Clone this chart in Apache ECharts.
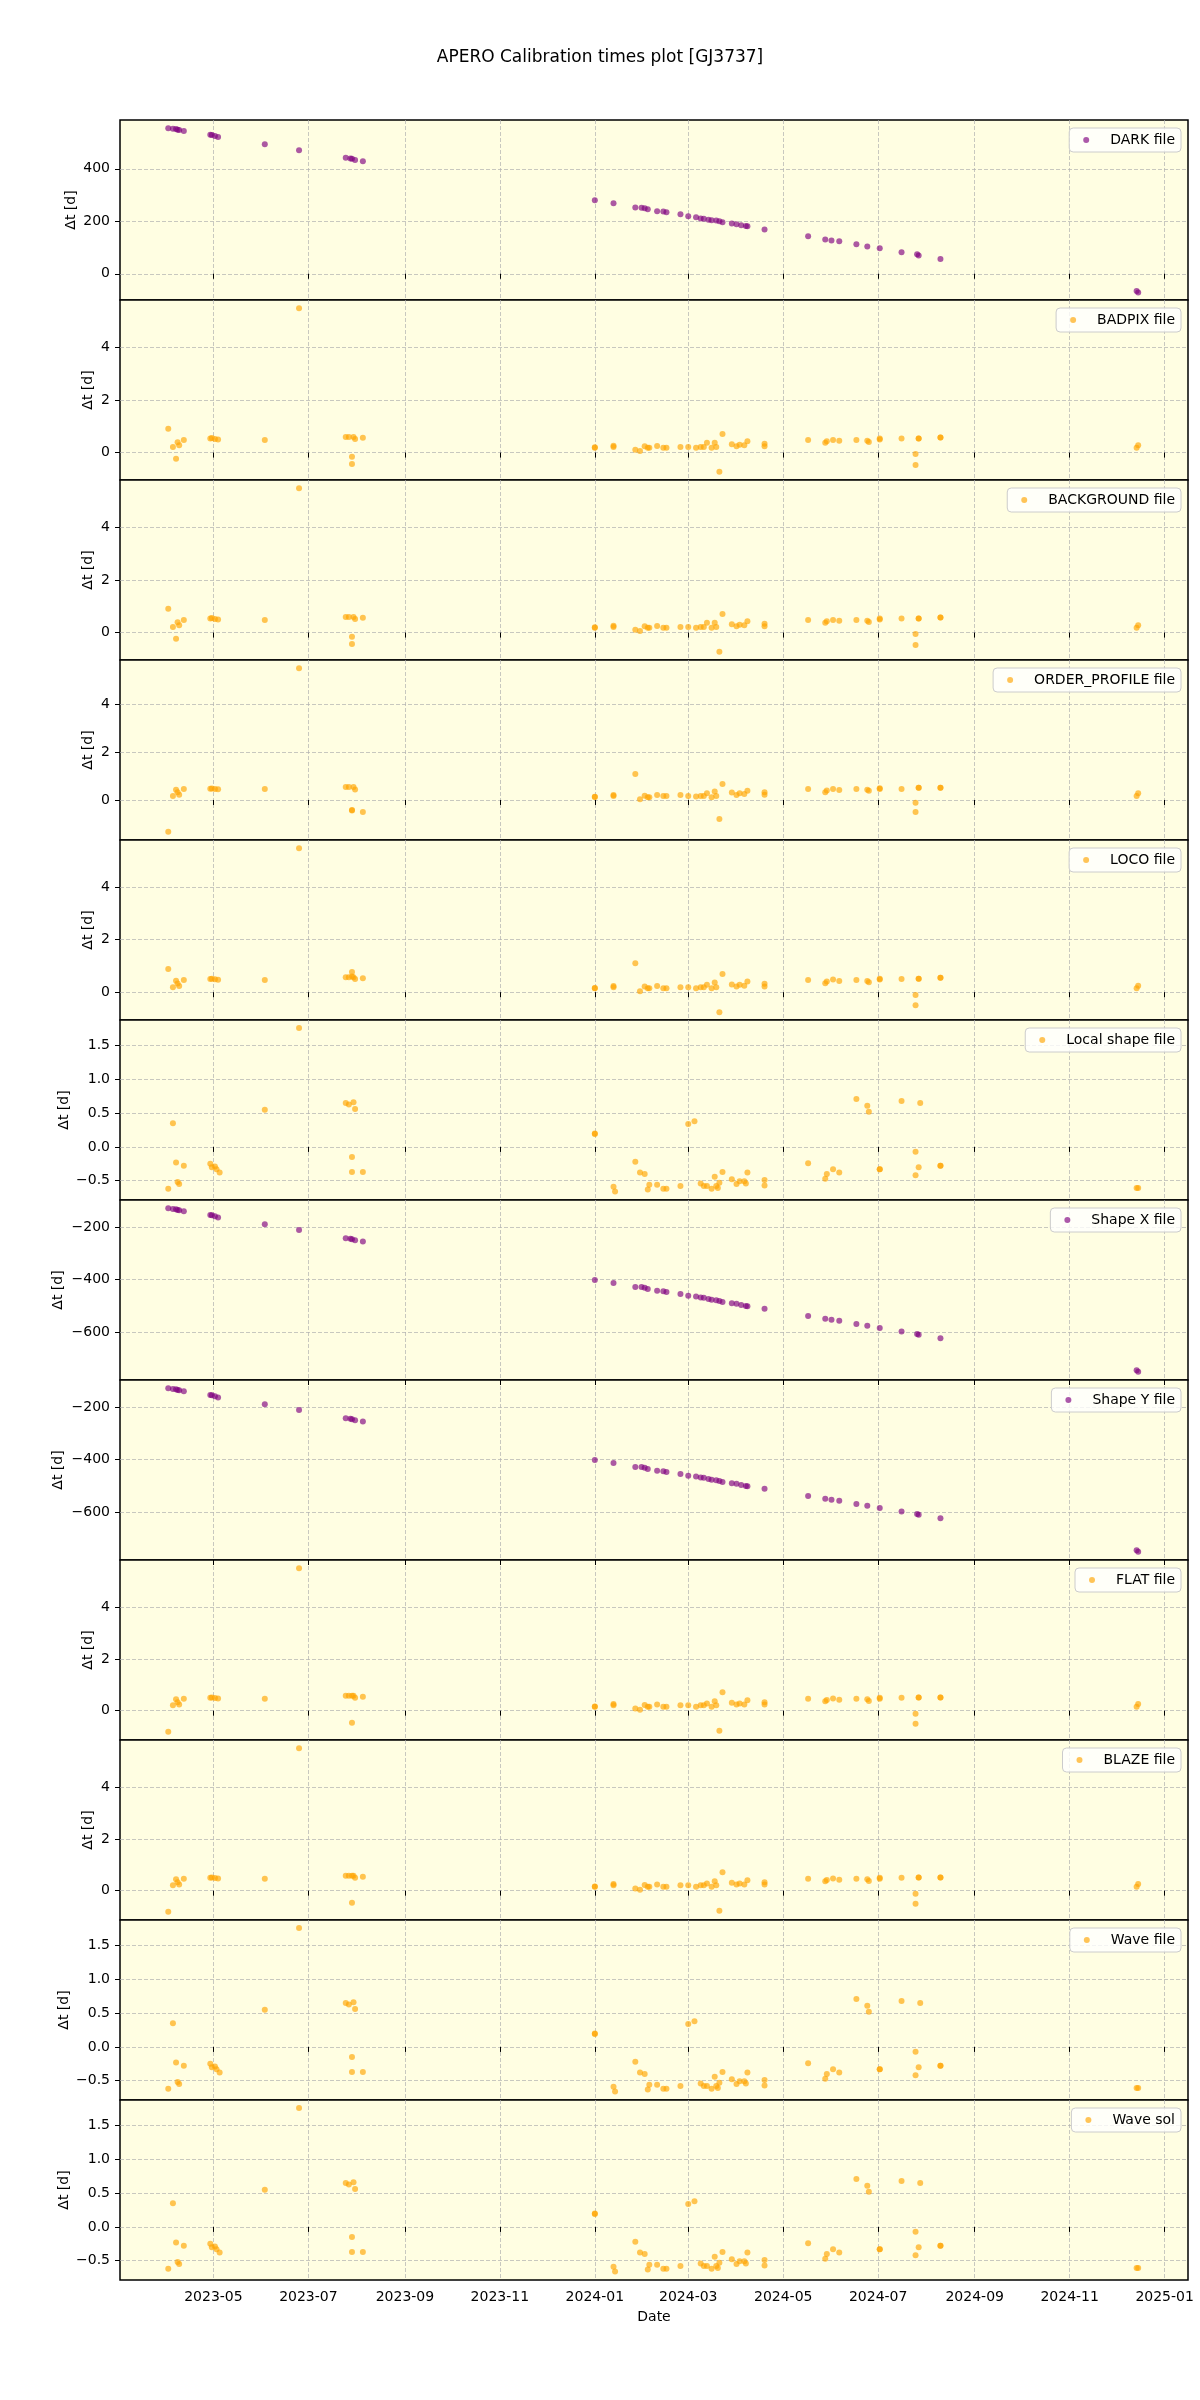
<!DOCTYPE html>
<html>
<head>
<meta charset="utf-8">
<script src="https://cdn.jsdelivr.net/npm/echarts@6/dist/echarts.min.js"></script>
<style>
html,body{margin:0;padding:0;background:#ffffff;}
#chart{width:1200px;height:2400px;}
</style>
</head>
<body>
<div id="chart"></div>
<script>
// ---------------- DATA ----------------
const titleText = 'APERO Calibration times plot [GJ3737]';
const xTickLabels = ['2023-05','2023-07','2023-09','2023-11','2024-01','2024-03','2024-05','2024-07','2024-09','2024-11','2025-01'];

// DARK / Shape X / Shape Y observation dates
const darkDates = ['2023-04-02','2023-04-05','2023-04-07','2023-04-08','2023-04-09','2023-04-12','2023-04-29','2023-04-30','2023-05-02','2023-05-04',
  '2023-06-03','2023-06-25','2023-07-25','2023-07-28','2023-07-29','2023-07-31','2023-08-05',
  '2024-01-01','2024-01-13','2024-01-27','2024-01-31','2024-02-02','2024-02-04','2024-02-10','2024-02-14','2024-02-16','2024-02-25',
  '2024-03-01','2024-03-06','2024-03-09','2024-03-11','2024-03-14','2024-03-16','2024-03-19','2024-03-21','2024-03-23','2024-03-29',
  '2024-04-01','2024-04-04','2024-04-07','2024-04-08','2024-04-19','2024-05-17','2024-05-28','2024-06-01','2024-06-06','2024-06-17',
  '2024-06-24','2024-07-02','2024-07-16','2024-07-26','2024-07-27','2024-08-10','2024-12-14','2024-12-15'];
const darkVals = [555,553,552,549,548,544,530,529,525,521,
  494,471,442,439,438,434,429,
  280,269,253,252,250,246,238,237,234,227,
  219,215,211,210,206,204,203,200,196,192,
  189,185,182,181,169,143,131,127,124,112,
  104,97,82,74,70,56,-66,-71];
const shapeXVals = [-128,-130,-131,-134,-135,-139,-153,-154,-158,-163,
  -189,-211,-242,-244,-246,-250,-255,
  -402,-413,-429,-429,-431,-436,-443,-445,-448,-455,
  -462,-465,-469,-470,-474,-477,-479,-482,-486,-491,
  -493,-497,-501,-502,-512,-539,-550,-554,-558,-570,
  -577,-585,-599,-608,-611,-624,-747,-752];
const shapeYVals = [-128,-130,-131,-134,-135,-139,-153,-154,-158,-163,
  -189,-211,-242,-244,-246,-250,-255,
  -402,-413,-429,-429,-431,-436,-443,-445,-448,-455,
  -462,-465,-469,-470,-474,-477,-479,-482,-486,-491,
  -493,-497,-501,-502,-512,-539,-550,-554,-558,-570,
  -577,-585,-599,-608,-611,-624,-747,-752];

// BADPIX / BACKGROUND / ORDER_PROFILE / LOCO / FLAT / BLAZE dates
const calDates = ['2023-04-02','2023-04-05','2023-04-07','2023-04-08','2023-04-09','2023-04-12','2023-04-29','2023-04-30','2023-05-02','2023-05-04',
  '2023-06-03','2023-06-25','2023-07-25','2023-07-27','2023-07-29','2023-07-29','2023-07-30','2023-07-31','2023-08-05','2024-01-01',
  '2024-01-01','2024-01-13','2024-01-13','2024-01-27','2024-01-30','2024-02-02','2024-02-04','2024-02-05','2024-02-10','2024-02-14',
  '2024-02-16','2024-02-25','2024-03-01','2024-03-06','2024-03-09','2024-03-11','2024-03-13','2024-03-16','2024-03-18','2024-03-19',
  '2024-03-21','2024-03-23','2024-03-29','2024-04-01','2024-04-03','2024-04-06','2024-04-08','2024-04-19','2024-04-19','2024-05-17',
  '2024-05-28','2024-05-29','2024-06-02','2024-06-06','2024-06-17','2024-06-24','2024-06-25','2024-07-02','2024-07-02','2024-07-16',
  '2024-07-25','2024-07-25','2024-07-27','2024-07-27','2024-08-10','2024-08-10','2024-12-14','2024-12-15'];
const badpixVals = [0.90,0.21,-0.23,0.39,0.28,0.48,0.53,0.55,0.52,0.50,
  0.48,5.48,0.59,0.59,-0.43,-0.16,0.59,0.52,0.56,0.18,
  0.20,0.21,0.26,0.11,0.06,0.24,0.18,0.18,0.25,0.18,
  0.18,0.21,0.21,0.18,0.21,0.21,0.37,0.18,0.37,0.21,
  -0.73,0.71,0.32,0.24,0.30,0.28,0.43,0.24,0.34,0.48,
  0.37,0.43,0.48,0.45,0.48,0.45,0.40,0.50,0.53,0.53,
  -0.05,-0.47,0.53,0.53,0.57,0.57,0.18,0.28];
const backgroundVals = [0.90,0.21,-0.23,0.39,0.28,0.48,0.53,0.55,0.52,0.50,
  0.48,5.48,0.59,0.59,-0.43,-0.16,0.59,0.52,0.56,0.18,
  0.20,0.21,0.26,0.11,0.06,0.24,0.18,0.18,0.25,0.18,
  0.18,0.21,0.21,0.18,0.21,0.21,0.37,0.18,0.37,0.21,
  -0.73,0.71,0.32,0.24,0.30,0.28,0.43,0.24,0.34,0.48,
  0.37,0.43,0.48,0.45,0.48,0.45,0.40,0.50,0.53,0.53,
  -0.05,-0.47,0.53,0.53,0.57,0.57,0.18,0.28];
const orderProfileVals = [-1.33,0.17,0.43,0.32,0.22,0.46,0.47,0.48,0.46,0.45,
  0.46,5.50,0.54,0.54,-0.44,-0.42,0.54,0.44,-0.50,0.12,
  0.13,0.17,0.21,1.08,0.03,0.18,0.11,0.11,0.21,0.17,
  0.17,0.21,0.17,0.14,0.17,0.17,0.28,0.11,0.35,0.17,
  -0.79,0.67,0.31,0.21,0.28,0.25,0.38,0.22,0.32,0.46,
  0.32,0.40,0.46,0.42,0.46,0.43,0.38,0.46,0.49,0.46,
  -0.12,-0.50,0.51,0.51,0.51,0.51,0.17,0.28];
const locoVals = [0.88,0.19,0.44,0.33,0.24,0.46,0.50,0.51,0.49,0.47,
  0.46,5.49,0.57,0.57,0.77,0.60,0.57,0.50,0.53,0.15,
  0.16,0.19,0.24,1.10,0.04,0.22,0.15,0.15,0.24,0.15,
  0.15,0.19,0.19,0.15,0.19,0.19,0.28,0.15,0.37,0.19,
  -0.76,0.69,0.29,0.22,0.28,0.25,0.41,0.22,0.32,0.46,
  0.34,0.41,0.48,0.43,0.46,0.43,0.38,0.48,0.51,0.50,
  -0.11,-0.50,0.51,0.51,0.55,0.55,0.15,0.25];
const flatVals = [-0.81,0.21,0.44,0.33,0.24,0.46,0.50,0.51,0.49,0.47,
  0.46,5.50,0.58,0.58,-0.46,0.58,0.58,0.50,0.54,0.15,
  0.16,0.21,0.26,0.09,0.04,0.22,0.15,0.15,0.24,0.15,
  0.15,0.21,0.21,0.15,0.21,0.21,0.28,0.15,0.37,0.21,
  -0.77,0.71,0.31,0.24,0.28,0.24,0.40,0.24,0.33,0.46,
  0.37,0.41,0.47,0.42,0.46,0.44,0.38,0.46,0.50,0.50,
  -0.12,-0.50,0.51,0.51,0.51,0.51,0.15,0.26];
const blazeVals = [-0.81,0.21,0.44,0.33,0.24,0.46,0.50,0.51,0.49,0.47,
  0.46,5.50,0.58,0.58,-0.46,0.58,0.58,0.50,0.54,0.15,
  0.16,0.21,0.26,0.09,0.04,0.22,0.15,0.15,0.24,0.15,
  0.15,0.21,0.21,0.15,0.21,0.21,0.28,0.15,0.37,0.21,
  -0.77,0.71,0.31,0.24,0.28,0.24,0.40,0.24,0.33,0.46,
  0.37,0.41,0.47,0.42,0.46,0.44,0.38,0.46,0.50,0.50,
  -0.12,-0.50,0.51,0.51,0.51,0.51,0.15,0.26];

// Local shape / Wave file / Wave sol dates
const waveDates = ['2023-04-02','2023-04-05','2023-04-07','2023-04-08','2023-04-09','2023-04-12','2023-04-29','2023-04-30','2023-05-02','2023-05-03',
  '2023-05-05','2023-06-03','2023-06-25','2023-07-25','2023-07-27','2023-07-29','2023-07-29','2023-07-30','2023-07-31','2023-08-05',
  '2024-01-01','2024-01-01','2024-01-13','2024-01-14','2024-01-27','2024-01-30','2024-02-02','2024-02-04','2024-02-05','2024-02-10',
  '2024-02-14','2024-02-16','2024-02-25','2024-03-01','2024-03-05','2024-03-09','2024-03-11','2024-03-13','2024-03-16','2024-03-18',
  '2024-03-19','2024-03-20','2024-03-21','2024-03-23','2024-03-29','2024-04-01','2024-04-03','2024-04-06','2024-04-07','2024-04-08',
  '2024-04-19','2024-04-19','2024-05-17','2024-05-28','2024-05-29','2024-06-02','2024-06-06','2024-06-17','2024-06-24','2024-06-25',
  '2024-07-02','2024-07-02','2024-07-16','2024-07-25','2024-07-25','2024-07-27','2024-07-28','2024-08-10','2024-08-10','2024-12-14',
  '2024-12-15'];
const localShapeVals = [-0.62,0.35,-0.23,-0.52,-0.55,-0.28,-0.25,-0.30,-0.29,-0.33,
  -0.38,0.55,1.76,0.65,0.63,-0.37,-0.15,0.66,0.56,-0.37,
  0.19,0.20,-0.59,-0.66,-0.22,-0.38,-0.40,-0.63,-0.56,-0.56,
  -0.62,-0.62,-0.58,0.34,0.38,-0.54,-0.58,-0.58,-0.62,-0.44,
  -0.58,-0.61,-0.53,-0.37,-0.48,-0.55,-0.51,-0.51,-0.54,-0.38,
  -0.57,-0.49,-0.24,-0.47,-0.40,-0.33,-0.38,0.71,0.61,0.52,
  -0.33,-0.33,0.68,-0.07,-0.42,-0.30,0.65,-0.28,-0.28,-0.61,
  -0.61];
const waveFileVals = [-0.62,0.35,-0.23,-0.52,-0.55,-0.28,-0.25,-0.30,-0.29,-0.33,
  -0.38,0.55,1.76,0.65,0.63,-0.37,-0.15,0.66,0.56,-0.37,
  0.19,0.20,-0.59,-0.66,-0.22,-0.38,-0.40,-0.63,-0.56,-0.56,
  -0.62,-0.62,-0.58,0.34,0.38,-0.54,-0.58,-0.58,-0.62,-0.44,
  -0.58,-0.61,-0.53,-0.37,-0.48,-0.55,-0.51,-0.51,-0.54,-0.38,
  -0.57,-0.49,-0.24,-0.47,-0.40,-0.33,-0.38,0.71,0.61,0.52,
  -0.33,-0.33,0.68,-0.07,-0.42,-0.30,0.65,-0.28,-0.28,-0.61,
  -0.61];
const waveSolVals = [-0.62,0.35,-0.23,-0.52,-0.55,-0.28,-0.25,-0.30,-0.29,-0.33,
  -0.38,0.55,1.76,0.65,0.63,-0.37,-0.15,0.66,0.56,-0.37,
  0.19,0.20,-0.59,-0.66,-0.22,-0.38,-0.40,-0.63,-0.56,-0.56,
  -0.62,-0.62,-0.58,0.34,0.38,-0.54,-0.58,-0.58,-0.62,-0.44,
  -0.58,-0.61,-0.53,-0.37,-0.48,-0.55,-0.51,-0.51,-0.54,-0.38,
  -0.57,-0.49,-0.24,-0.47,-0.40,-0.33,-0.38,0.71,0.61,0.52,
  -0.33,-0.33,0.68,-0.07,-0.42,-0.30,0.65,-0.28,-0.28,-0.61,
  -0.61];

// y tick values
const darkTicks = [0, 200, 400];
const calTicks = [0, 2, 4];
const waveTicks = [-0.5, 0.0, 0.5, 1.0, 1.5];
const shapeTicks = [-600, -400, -200];

// ---------------- LAYOUT / STYLE ----------------
const FONT = 'DejaVu Sans';
const PLOT_L = 120, PLOT_R = 1188, PLOT_T = 120, PANEL_H = 180;
const PURPLE = '#800080', ORANGE = '#FFA500';
const X_MIN = '2023-03-02', X_MAX = '2025-01-16';

const panels = [
  {name:'DARK file', color:PURPLE, dates:darkDates, vals:darkVals, min:-100, max:586, ticks:darkTicks, dec:0, gap:42},
  {name:'BADPIX file', color:ORANGE, dates:calDates, vals:badpixVals, min:-1.04, max:5.79, ticks:calTicks, dec:0, gap:25},
  {name:'BACKGROUND file', color:ORANGE, dates:calDates, vals:backgroundVals, min:-1.04, max:5.79, ticks:calTicks, dec:0, gap:25},
  {name:'ORDER_PROFILE file', color:ORANGE, dates:calDates, vals:orderProfileVals, min:-1.67, max:5.84, ticks:calTicks, dec:0, gap:25},
  {name:'LOCO file', color:ORANGE, dates:calDates, vals:locoVals, min:-1.06, max:5.80, ticks:calTicks, dec:0, gap:25},
  {name:'Local shape file', color:ORANGE, dates:waveDates, vals:localShapeVals, min:-0.786, max:1.88, ticks:waveTicks, dec:1, gap:49},
  {name:'Shape X file', color:PURPLE, dates:darkDates, vals:shapeXVals, min:-784, max:-96, ticks:shapeTicks, dec:0, gap:55},
  {name:'Shape Y file', color:PURPLE, dates:darkDates, vals:shapeYVals, min:-784, max:-96, ticks:shapeTicks, dec:0, gap:55},
  {name:'FLAT file', color:ORANGE, dates:calDates, vals:flatVals, min:-1.13, max:5.82, ticks:calTicks, dec:0, gap:25},
  {name:'BLAZE file', color:ORANGE, dates:calDates, vals:blazeVals, min:-1.13, max:5.82, ticks:calTicks, dec:0, gap:25},
  {name:'Wave file', color:ORANGE, dates:waveDates, vals:waveFileVals, min:-0.786, max:1.88, ticks:waveTicks, dec:1, gap:49},
  {name:'Wave sol', color:ORANGE, dates:waveDates, vals:waveSolVals, min:-0.786, max:1.88, ticks:waveTicks, dec:1, gap:49}
];

// dates -> UTC timestamps for a numeric (value) x axis
function ts(s) {
  const p = s.split('-').map(Number);
  return Date.UTC(p[0], p[1] - 1, p[2] || 1);
}
const xTickVals = xTickLabels.map(s => ts(s + '-01'));
const N = panels.length;

function fmtNum(v, dec) {
  return Number(v).toFixed(dec).replace('-', '\u2212');
}
function fmtMonth(v) {
  const d = new Date(v);
  return d.getUTCFullYear() + '-' + String(d.getUTCMonth() + 1).padStart(2, '0');
}

const gridLine = {show:true, lineStyle:{color:'#b0b0b0', width:1, type:[4, 2], opacity:0.7}};

const option = {
  animation: false,
  backgroundColor: '#ffffff',
  title: {
    text: titleText, left: 'center', top: 49, padding: 0,
    textStyle: {fontFamily: FONT, fontSize: 17, fontWeight: 'normal', color: '#000'}
  },
  grid: panels.map((p, i) => ({
    left: PLOT_L, right: 1200 - PLOT_R, top: PLOT_T + PANEL_H * i, height: PANEL_H,
    show: true, backgroundColor: '#FFFEE2', borderColor: '#000', borderWidth: 1.5,
    containLabel: false, outerBoundsMode: 'none'
  })),
  legend: panels.map((p, i) => ({
    data: [{name: p.name, icon: 'circle'}],
    right: 1200 - PLOT_R + 7, top: PLOT_T + PANEL_H * i + 8,
    orient: 'vertical', itemWidth: 28, itemHeight: 6, itemGap: 0,
    padding: [5, 6, 5, 14],
    backgroundColor: 'rgba(255,255,255,0.8)', borderColor: '#cccccc', borderWidth: 1, borderRadius: 4,
    textStyle: {fontFamily: FONT, fontSize: 14, color: '#000', padding: [0, 0, 0, 5]},
    itemStyle: {opacity: 0.65},
    selectedMode: false
  })),
  xAxis: panels.map((p, i) => ({
    type: 'value', gridIndex: i, min: ts(X_MIN), max: ts(X_MAX), scale: true,
    axisLine: {show: false},
    axisTick: {show: true, length: 5, lineStyle: {color: '#000', width: 1}, customValues: xTickVals},
    axisLabel: {show: i === N - 1, customValues: xTickVals, formatter: fmtMonth,
      fontFamily: FONT, fontSize: 14, color: '#000', margin: 10},
    splitLine: gridLine,
    name: i === N - 1 ? 'Date' : '', nameLocation: 'middle', nameGap: 30, nameMoveOverlap: false,
    nameTextStyle: {fontFamily: FONT, fontSize: 14, color: '#000'}
  })),
  yAxis: panels.map((p, i) => ({
    type: 'value', gridIndex: i, min: p.min, max: p.max,
    name: 'Δt [d]', nameLocation: 'middle', nameGap: p.gap, nameMoveOverlap: false,
    nameTextStyle: {fontFamily: FONT, fontSize: 14, color: '#000'},
    axisLine: {show: false},
    axisTick: {show: true, length: 5, lineStyle: {color: '#000', width: 1}, customValues: p.ticks},
    axisLabel: {customValues: p.ticks, formatter: v => fmtNum(v, p.dec),
      fontFamily: FONT, fontSize: 14, color: '#000', margin: 10},
    splitLine: gridLine
  })),
  series: panels.map((p, i) => ({
    type: 'scatter', name: p.name, xAxisIndex: i, yAxisIndex: i,
    data: p.dates.map((d, k) => [ts(d), p.vals[k]]),
    symbol: 'circle', symbolSize: 6,
    itemStyle: {color: p.color, opacity: 0.65},
    silent: true
  }))
};

const chart = echarts.init(document.getElementById('chart'), null, {renderer: 'canvas', width: 1200, height: 2400});
chart.setOption(option);
</script>
</body>
</html>
